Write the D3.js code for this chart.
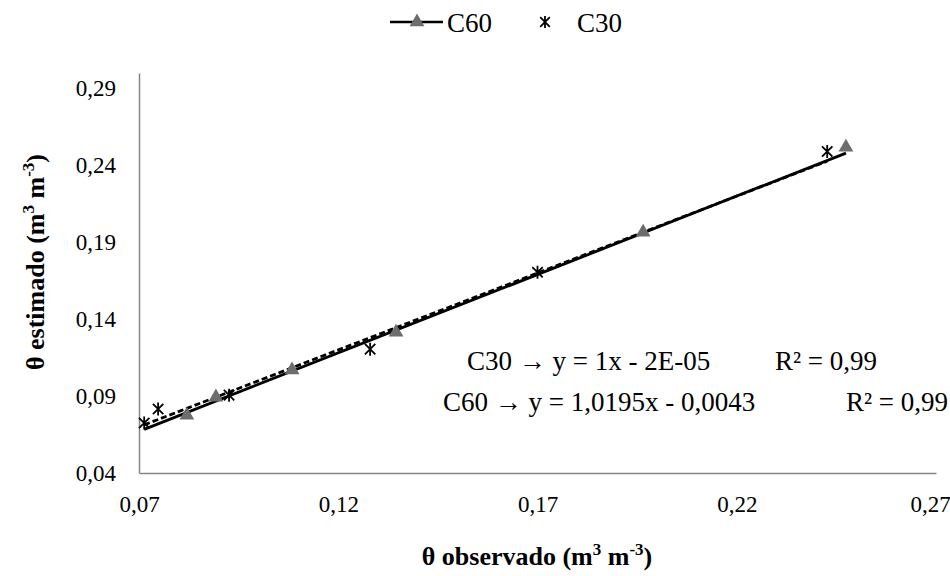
<!DOCTYPE html>
<html><head><meta charset="utf-8">
<script src="https://cdn.jsdelivr.net/npm/d3@7"></script>
<style>body{margin:0;background:#fff}svg{display:block}
svg text{font-family:"Liberation Serif","Times New Roman",serif}</style>
</head><body><div id="chart"></div>
<script>
const c60x = [0.082, 0.0893, 0.1084, 0.1345, 0.1965, 0.2474];
const c60y = [0.0775, 0.0893, 0.1069, 0.1315, 0.1965, 0.2517];
const c30x = [0.0713, 0.0748, 0.0926, 0.128, 0.170, 0.2427];
const c30y = [0.0725, 0.0816, 0.0906, 0.1205, 0.1705, 0.249];
const xTicks = [0.07, 0.12, 0.17, 0.22, 0.27];
const yTicks = [0.04, 0.09, 0.14, 0.19, 0.24, 0.29];
const c30fit = {a: 1, b: -0.00002};
const c60fit = {a: 1.0195, b: -0.0043};

const W = 950, H = 576;
const svg = d3.select("#chart").append("svg").attr("width", W).attr("height", H);
const x = d3.scaleLinear().domain([0.07, 0.27]).range([139, 936]);
const y = d3.scaleLinear().domain([0.04, 0.30]).range([473, 73]);
const fmt = d => d.toFixed(2).replace(".", ",");

const xAxis = svg.append("g").attr("transform", `translate(0,${y(0.04)})`)
  .call(d3.axisBottom(x).tickValues(xTicks).tickFormat(fmt).tickSize(0).tickPadding(23));
const yAxis = svg.append("g").attr("transform", `translate(${x(0.07)},0)`)
  .call(d3.axisLeft(y).tickValues(yTicks).tickFormat(fmt).tickSize(0).tickPadding(23));
[xAxis, yAxis].forEach(g => {
  g.attr("font-family", null);
  g.select(".domain").attr("stroke", "#868686").attr("stroke-width", 1.5);
  g.selectAll("text").attr("font-size", 23).attr("fill", "#000");
});
xAxis.selectAll(".tick").filter(d => d === 0.27).select("text").attr("dx", -6);

const line = d3.line().x(d => x(d[0])).y(d => y(d[1]));
const allMin = Math.min(d3.min(c60x), d3.min(c30x));
const c60ext = [allMin, d3.max(c60x)], c30ext = d3.extent(c30x);
svg.append("path").attr("d", line(c60ext.map(v => [v, c60fit.a * v + c60fit.b])))
  .attr("stroke", "#000").attr("stroke-width", 2.8).attr("fill", "none");
svg.append("path").attr("d", line(c30ext.map(v => [v, c30fit.a * v + c30fit.b])))
  .attr("stroke", "#000").attr("stroke-width", 2.8).attr("stroke-dasharray", "6,3").attr("fill", "none");

const tri = d3.symbol().type(d3.symbolTriangle).size(95);
svg.append("g").selectAll("path").data(c60x.map((v, i) => [v, c60y[i]])).join("path")
  .attr("d", tri).attr("transform", d => `translate(${x(d[0])},${y(d[1])})`).attr("fill", "#6d6d6d");
function star(g, cx, cy, r) {
  const d = r * 0.8;
  g.append("path").attr("d", `M${cx},${cy - r}L${cx},${cy + r}M${cx - d},${cy - d}L${cx + d},${cy + d}M${cx - d},${cy + d}L${cx + d},${cy - d}`)
    .attr("stroke", "#000").attr("stroke-width", 1.8).attr("fill", "none");
}
const sg = svg.append("g");
c30x.forEach((v, i) => star(sg, x(v), y(c30y[i]), 6.5));

const lg = svg.append("g");
lg.append("line").attr("x1", 390).attr("x2", 443).attr("y1", 22).attr("y2", 22).attr("stroke", "#000").attr("stroke-width", 2.5);
lg.append("path").attr("d", tri).attr("transform", "translate(417,22)").attr("fill", "#6d6d6d");
lg.append("text").attr("x", 447).attr("y", 32).text("C60").attr("font-size", 27);
star(lg, 545, 22, 6);
lg.append("text").attr("x", 577).attr("y", 32).text("C30").attr("font-size", 27);

svg.append("text").attr("x", 467).attr("y", 370).attr("font-size", 27)
  .attr("xml:space", "preserve").text("C30 → y = 1x - 2E-05");
svg.append("text").attr("x", 877).attr("y", 370).attr("font-size", 27).attr("text-anchor", "end")
  .text("R² = 0,99");
svg.append("text").attr("x", 443).attr("y", 411).attr("font-size", 27)
  .attr("xml:space", "preserve").text("C60 → y = 1,0195x - 0,0043");
svg.append("text").attr("x", 948).attr("y", 411).attr("font-size", 27).attr("text-anchor", "end")
  .text("R² = 0,99");

function title(t, label) {
  t.append("tspan").text(label + " (m");
  t.append("tspan").text("3").attr("font-size", 17).attr("dy", -10);
  t.append("tspan").text(" m").attr("dy", 10);
  t.append("tspan").text("-3").attr("font-size", 17).attr("dy", -10);
  t.append("tspan").text(")").attr("dy", 10);
}
title(svg.append("text").attr("x", 537).attr("y", 565).attr("text-anchor", "middle")
  .attr("font-size", 26).attr("font-weight", "bold"), "θ observado");
title(svg.append("text").attr("transform", "translate(44,262) rotate(-90)").attr("text-anchor", "middle")
  .attr("font-size", 26).attr("font-weight", "bold"), "θ estimado");
</script></body></html>
